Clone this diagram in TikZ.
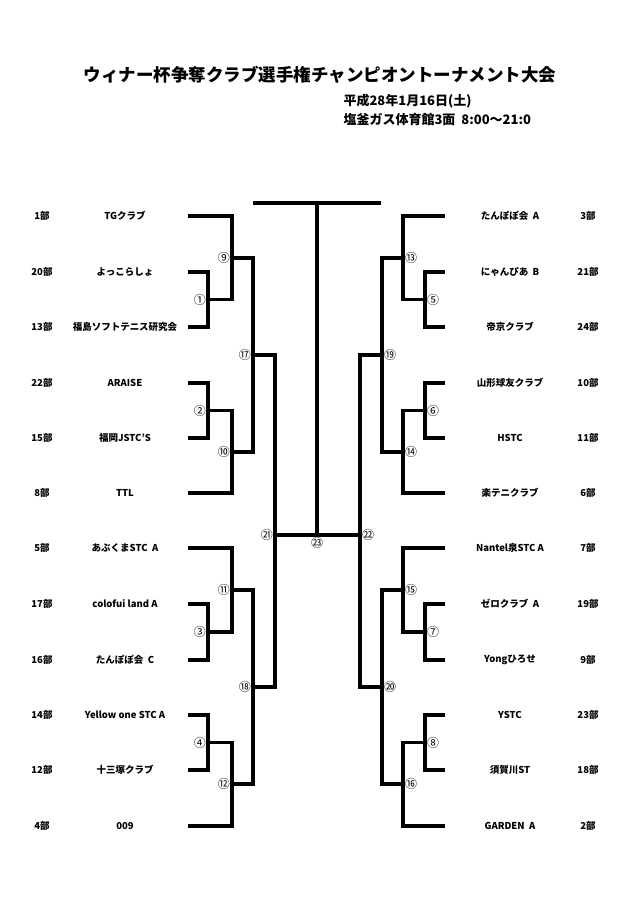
\documentclass[tikz,border=0pt]{standalone}
\usepackage{fontspec}
\setmainfont{Noto Sans CJK JP}
\usetikzlibrary{positioning}
\tikzset{
  brk/.style={line width=3.6pt, line join=miter},
  team/.style={font=\fontsize{9.5}{11}\selectfont\bfseries, inner sep=0pt},
  rnd/.style={font=\fontsize{12}{13}\selectfont, inner sep=1pt}
}
\begin{document}
\begin{tikzpicture}[x=1pt, y=-1pt]
  \useasboundingbox (0,0) rectangle (640,906);
  % title
  \node[font=\fontsize{17.5}{20}\selectfont\bfseries] (title) at (320,75) {ウィナー杯争奪クラブ選手権チャンピオントーナメント大会};
  \node[font=\fontsize{13}{15}\selectfont\bfseries, anchor=west] (date) at (340,101) {平成28年1月16日(土)};
  \node[font=\fontsize{13}{15}\selectfont\bfseries, anchor=west] (place) at (340,120) {塩釜ガス体育館3面\ \ 8:00～21:0};
  % left teams
  \foreach \y/\n/\t [count=\i] in {216/1部/TGクラブ, 272/20部/よっこらしょ, 327/13部/福島ソフトテニス研究会,
      383/22部/ARAISE, 438/15部/福岡JSTC’S, 493/8部/TTL, 548/5部/あぶくまSTC\ \ A,
      604/17部/colofui land A, 660/16部/たんぽぽ会\ \ C, 715/14部/Yellow one STC A,
      770/12部/十三塚クラブ, 826/4部/009} {
    \node[team] (ln\i) at (42,\y) {\n};
    \node[team] (lt\i) at (125,\y) {\t};
    \coordinate (L\i) at (188,\y);
  }
  % right teams
  \foreach \y/\n/\t [count=\i] in {216/3部/たんぽぽ会\ \ A, 272/21部/にゃんぴあ\ \ B, 327/24部/帝京クラブ,
      383/10部/山形球友クラブ, 438/11部/HSTC, 493/6部/楽テニクラブ, 548/7部/Nantel泉STC A,
      604/19部/ゼロクラブ\ \ A, 660/9部/Yongひろせ, 715/23部/YSTC,
      770/18部/須賀川ST, 826/2部/GARDEN\ \ A} {
    \node[team] (rn\i) at (588,\y) {\n};
    \node[team] (rt\i) at (510,\y) {\t};
    \coordinate (R\i) at (445,\y);
  }
  % junctions, left
  \coordinate (j1) at (208,299.5);
  \coordinate (j2) at (208,410.5);
  \coordinate (j3) at (208,632);
  \coordinate (j4) at (208,742.5);
  \coordinate (j9) at (232,258);
  \coordinate (j10) at (232,452);
  \coordinate (j11) at (232,590);
  \coordinate (j12) at (232,784);
  \coordinate (j17) at (253,355);
  \coordinate (j18) at (253,687);
  \coordinate (j21) at (275,535);
  % junctions, right
  \coordinate (j5) at (425,299.5);
  \coordinate (j6) at (425,410.5);
  \coordinate (j7) at (425,632);
  \coordinate (j8) at (425,742.5);
  \coordinate (j13) at (403,258);
  \coordinate (j14) at (403,452);
  \coordinate (j15) at (403,590);
  \coordinate (j16) at (403,784);
  \coordinate (j19) at (382,355);
  \coordinate (j20) at (382,687);
  \coordinate (j22) at (360,535);
  \coordinate (j23) at (317,535);
  \coordinate (top) at (317,203);
  \coordinate (barL) at (253,203);
  \coordinate (barR) at (381,203);
  % left bracket
  \draw[brk] (L2) -| (j1) |- (L3);
  \draw[brk] (L4) -| (j2) |- (L5);
  \draw[brk] (L8) -| (j3) |- (L9);
  \draw[brk] (L10) -| (j4) |- (L11);
  \draw[brk] (L1) -| (j9) |- (j1);
  \draw[brk] (j2) -| (j10) |- (L6);
  \draw[brk] (L7) -| (j11) |- (j3);
  \draw[brk] (j4) -| (j12) |- (L12);
  \draw[brk] (j9) -| (j17) |- (j10);
  \draw[brk] (j11) -| (j18) |- (j12);
  \draw[brk] (j17) -| (j21) |- (j18);
  % right bracket
  \draw[brk] (R2) -| (j5) |- (R3);
  \draw[brk] (R4) -| (j6) |- (R5);
  \draw[brk] (R8) -| (j7) |- (R9);
  \draw[brk] (R10) -| (j8) |- (R11);
  \draw[brk] (R1) -| (j13) |- (j5);
  \draw[brk] (j6) -| (j14) |- (R6);
  \draw[brk] (R7) -| (j15) |- (j7);
  \draw[brk] (j8) -| (j16) |- (R12);
  \draw[brk] (j13) -| (j19) |- (j14);
  \draw[brk] (j15) -| (j20) |- (j16);
  \draw[brk] (j19) -| (j22) |- (j20);
  % final
  \draw[brk] (j21) -- (j22);
  \draw[brk] (top) -- (j23);
  \draw[brk] (barL) -- (barR);
  % round numbers
  \node[rnd, left=1pt of j1] (n1) {①};
  \node[rnd, left=1pt of j2] (n2) {②};
  \node[rnd, left=1pt of j3] (n3) {③};
  \node[rnd, left=1pt of j4] (n4) {④};
  \node[rnd, left=1pt of j9] (n9) {⑨};
  \node[rnd, left=1pt of j10] (n10) {⑩};
  \node[rnd, left=1pt of j11] (n11) {⑪};
  \node[rnd, left=1pt of j12] (n12) {⑫};
  \node[rnd, left=1pt of j17] (n17) {⑰};
  \node[rnd, left=1pt of j18] (n18) {⑱};
  \node[rnd, left=1pt of j21] (n21) {㉑};
  \node[rnd, right=1pt of j5] (n5) {⑤};
  \node[rnd, right=1pt of j6] (n6) {⑥};
  \node[rnd, right=1pt of j7] (n7) {⑦};
  \node[rnd, right=1pt of j8] (n8) {⑧};
  \node[rnd, right=1pt of j13] (n13) {⑬};
  \node[rnd, right=1pt of j14] (n14) {⑭};
  \node[rnd, right=1pt of j15] (n15) {⑮};
  \node[rnd, right=1pt of j16] (n16) {⑯};
  \node[rnd, right=1pt of j19] (n19) {⑲};
  \node[rnd, right=1pt of j20] (n20) {⑳};
  \node[rnd, right=1pt of j22] (n22) {㉒};
  \node[rnd, below=1pt of j23] (n23) {㉓};
\end{tikzpicture}
\end{document}
